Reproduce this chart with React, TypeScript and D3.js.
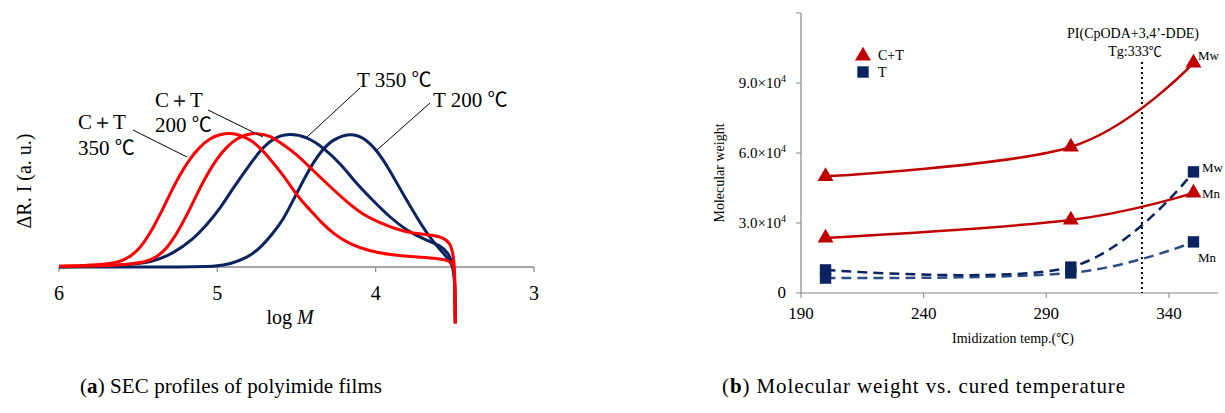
import React, { useRef, useEffect } from "react";
import * as d3 from "d3";

// ---- panel (a): SEC profiles, [log M, normalised intensity]
const secRed350: [number, number][] = [
    [6.0, 0.005], [5.74, 0.015], [5.615, 0.037], [5.551, 0.075], [5.488, 0.14], [5.425, 0.25],
    [5.362, 0.39], [5.299, 0.545], [5.236, 0.69], [5.172, 0.81], [5.109, 0.9], [5.046, 0.96],
    [4.983, 0.99], [4.92, 1.0], [4.857, 0.985], [4.79, 0.95], [4.73, 0.89], [4.67, 0.81], [4.6, 0.71],
    [4.54, 0.61], [4.48, 0.51], [4.41, 0.42], [4.35, 0.34], [4.26, 0.24], [4.16, 0.17], [4.04, 0.12],
    [3.91, 0.09], [3.75, 0.075], [3.61, 0.065], [3.54, 0.05], [3.51, 0.02], [3.5, -0.05],
    [3.497, -0.42], [3.497, -0.42],
];
const secRed200: [number, number][] = [
    [6.0, 0.005], [5.615, 0.01], [5.444, 0.037], [5.381, 0.075], [5.318, 0.14], [5.255, 0.25],
    [5.191, 0.39], [5.128, 0.545], [5.065, 0.69], [5.002, 0.81], [4.939, 0.9], [4.876, 0.96],
    [4.812, 0.99], [4.749, 1.0], [4.667, 0.98], [4.604, 0.93], [4.497, 0.84], [4.395, 0.72],
    [4.288, 0.6], [4.181, 0.485], [4.08, 0.39], [3.972, 0.33], [3.865, 0.28], [3.764, 0.25],
    [3.656, 0.24], [3.574, 0.22], [3.53, 0.18], [3.511, 0.1], [3.5, -0.01], [3.497, -0.42], [3.497, -0.42],
];
const secBlue350: [number, number][] = [
    [6.0, 0.0], [5.615, 0.01], [5.41, 0.035], [5.28, 0.1], [5.15, 0.21], [5.07, 0.31], [4.98, 0.44],
    [4.9, 0.59], [4.81, 0.74], [4.73, 0.87], [4.65, 0.96], [4.55, 1.0], [4.43, 0.97], [4.33, 0.89],
    [4.22, 0.77], [4.12, 0.62], [4.02, 0.5], [3.91, 0.37], [3.8, 0.27], [3.7, 0.21], [3.59, 0.16],
    [3.54, 0.105], [3.51, 0.015], [3.5, -0.1], [3.497, -0.42], [3.497, -0.42],
];
const secBlue200: [number, number][] = [
    [6.0, 0.0], [5.11, 0.0], [5.015, 0.005], [4.92, 0.02], [4.81, 0.07], [4.73, 0.14], [4.65, 0.25],
    [4.585, 0.35], [4.52, 0.5], [4.43, 0.71], [4.35, 0.86], [4.27, 0.955], [4.16, 1.0], [4.08, 0.97],
    [3.99, 0.87], [3.91, 0.72], [3.83, 0.55], [3.74, 0.37], [3.66, 0.22], [3.57, 0.1], [3.51, 0.015],
    [3.5, -0.1], [3.497, -0.42], [3.497, -0.42],
];
const secTicks = [6, 5, 4, 3];

// ---- panel (b): molecular weight vs imidization temperature
const temps = [200, 300, 350];
const ctMw = [50000, 62600, 98600];
const ctMn = [23600, 31300, 42900];
const tMw = [9900, 11100, 51900];
const tMn = [6400, 8600, 21900];
const mwTicks = [0, 30000, 60000, 90000, 120000];
const mwTickLabels = ["0", "3.0", "6.0", "9.0", ""];
const tempTicks = [190, 240, 290, 340];
const tgLine = 329;

const serif = "'Liberation Serif', 'Times New Roman', serif";
const cjk = "'Noto Sans CJK JP', sans-serif";

const App = () => {
    const svgRef = useRef<SVGSVGElement>(null);

    useEffect(() => {
        if (!svgRef.current) return;
        const svg = d3.select(svgRef.current);
        svg.selectAll("*").remove();
        svg.style("font-family", serif);

        // ================= panel (a)
        const xa = d3.scaleLinear().domain([6, 3]).range([59, 534]);
        const ya = d3.scaleLinear().domain([0, 1]).range([267, 133]);
        const a = svg.append("g");

        a.append("line")
            .attr("x1", xa(6)).attr("x2", xa(3))
            .attr("y1", ya(0)).attr("y2", ya(0))
            .attr("stroke", "#888").attr("stroke-width", 1.5);
        secTicks.forEach((t) => {
            a.append("line")
                .attr("x1", xa(t)).attr("x2", xa(t))
                .attr("y1", ya(0)).attr("y2", ya(0) + 5)
                .attr("stroke", "#888").attr("stroke-width", 1.2);
            a.append("text")
                .attr("x", xa(t)).attr("y", ya(0) + 33)
                .attr("text-anchor", "middle")
                .style("font-size", "20px")
                .text(t);
        });

        const lineA = d3.line<[number, number]>()
            .x((d) => xa(d[0]))
            .y((d) => ya(d[1]))
            .curve(d3.curveBasis);

        const curves: { data: [number, number][]; color: string }[] = [
            { data: secBlue200, color: "#0b2461" },
            { data: secBlue350, color: "#0b2461" },
            { data: secRed200, color: "#ff0000" },
            { data: secRed350, color: "#ff0000" },
        ];
        curves.forEach((c) => {
            a.append("path")
                .attr("d", lineA(c.data))
                .attr("fill", "none")
                .attr("stroke", c.color)
                .attr("stroke-width", 3);
        });

        // leader lines
        const leaders = [
            [133, 130, 187, 157],
            [208, 110, 263, 137],
            [360, 88, 307, 137],
            [430, 103, 377, 150],
        ];
        leaders.forEach(([x1, y1, x2, y2]) => {
            a.append("line")
                .attr("x1", x1).attr("y1", y1).attr("x2", x2).attr("y2", y2)
                .attr("stroke", "#000").attr("stroke-width", 1);
        });

        const annot = (x: number, y: number, s: string, deg = false) => {
            const t = a.append("text").attr("x", x).attr("y", y).style("font-size", "21px");
            t.append("tspan").text(s);
            if (deg) t.append("tspan").style("font-family", cjk).style("font-size", "20px").text("℃");
        };
        annot(78, 129, "C＋T");
        annot(78, 155, "350 ", true);
        annot(155, 107, "C＋T");
        annot(155, 132, "200 ", true);
        annot(357, 87, "T 350 ", true);
        annot(433, 107, "T 200 ", true);

        a.append("text")
            .attr("transform", "translate(31,181) rotate(-90)")
            .attr("text-anchor", "middle")
            .style("font-size", "20px")
            .text("ΔR. I (a. u.)");

        const xl = a.append("text")
            .attr("x", 290).attr("y", 324)
            .attr("text-anchor", "middle")
            .style("font-size", "20px");
        xl.append("tspan").text("log ");
        xl.append("tspan").style("font-style", "italic").text("M");

        // ================= panel (b)
        const xb = d3.scaleLinear().domain([190, 360]).range([801, 1218]);
        const yb = d3.scaleLinear().domain([0, 120000]).range([293, 13]);
        const b = svg.append("g");

        b.append("line")
            .attr("x1", xb(190)).attr("x2", xb(360))
            .attr("y1", yb(0)).attr("y2", yb(0))
            .attr("stroke", "#888").attr("stroke-width", 1.2);
        b.append("line")
            .attr("x1", xb(190)).attr("x2", xb(190))
            .attr("y1", yb(0)).attr("y2", yb(120000))
            .attr("stroke", "#888").attr("stroke-width", 1.2);

        tempTicks.forEach((t) => {
            b.append("line")
                .attr("x1", xb(t)).attr("x2", xb(t))
                .attr("y1", yb(0)).attr("y2", yb(0) + 5)
                .attr("stroke", "#888");
            b.append("text")
                .attr("x", xb(t)).attr("y", yb(0) + 26)
                .attr("text-anchor", "middle")
                .style("font-size", "17px")
                .text(t);
        });
        mwTicks.forEach((t, i) => {
            b.append("line")
                .attr("x1", xb(190) - 5).attr("x2", xb(190))
                .attr("y1", yb(t)).attr("y2", yb(t))
                .attr("stroke", "#888");
            const lbl = mwTickLabels[i];
            if (!lbl) return;
            const tx = b.append("text")
                .attr("x", xb(190) - 15).attr("y", yb(t) + 5)
                .attr("text-anchor", "end")
                .style("font-size", lbl === "0" ? "17px" : "15px");
            if (lbl === "0") {
                tx.text("0");
            } else {
                tx.append("tspan").text(`${lbl}×10`);
                tx.append("tspan").attr("dy", -6).style("font-size", "10px").text("4");
            }
        });

        b.append("text")
            .attr("transform", "translate(724,173) rotate(-90)")
            .attr("text-anchor", "middle")
            .style("font-size", "14px")
            .text("Molecular weight");
        const xlb = b.append("text")
            .attr("x", 1013).attr("y", 343)
            .attr("text-anchor", "middle")
            .style("font-size", "14px");
        xlb.append("tspan").text("Imidization temp.(");
        xlb.append("tspan").style("font-family", cjk).style("font-size", "13px").text("℃");
        xlb.append("tspan").text(")");

        // Tg line
        b.append("line")
            .attr("x1", xb(tgLine)).attr("x2", xb(tgLine))
            .attr("y1", 62).attr("y2", yb(0))
            .attr("stroke", "#000").attr("stroke-width", 2)
            .attr("stroke-dasharray", "2 3");
        b.append("text")
            .attr("x", 1133).attr("y", 38)
            .attr("text-anchor", "middle")
            .style("font-size", "14px")
            .text("PI(CpODA+3,4’-DDE)");
        const tg = b.append("text")
            .attr("x", 1135).attr("y", 56)
            .attr("text-anchor", "middle")
            .style("font-size", "14px");
        tg.append("tspan").text("Tg:333");
        tg.append("tspan").style("font-family", cjk).style("font-size", "13px").text("℃");

        const lineB = d3.line<[number, number]>()
            .x((d) => xb(d[0]))
            .y((d) => yb(d[1]))
            .curve(d3.curveCardinal.tension(0));

        const series = [
            { vals: tMn, color: "#2a4f86", dash: "10 6", marker: "square" },
            { vals: tMw, color: "#0b2461", dash: "10 6", marker: "square" },
            { vals: ctMn, color: "#c00000", dash: null, marker: "triangle" },
            { vals: ctMw, color: "#c00000", dash: null, marker: "triangle" },
        ];
        const tri = d3.symbol().type(d3.symbolTriangle).size(110);
        const sq = d3.symbol().type(d3.symbolSquare).size(130);
        series.forEach((s) => {
            const pts = temps.map((t, i) => [t, s.vals[i]] as [number, number]);
            b.append("path")
                .attr("d", lineB(pts))
                .attr("fill", "none")
                .attr("stroke", s.color)
                .attr("stroke-width", 2.5)
                .attr("stroke-dasharray", s.dash);
            pts.forEach((p) => {
                b.append("path")
                    .attr("d", (s.marker === "triangle" ? tri : sq)())
                    .attr("transform", `translate(${xb(p[0])},${yb(p[1])})`)
                    .attr("fill", s.marker === "triangle" ? "#c00000" : "#0b2461");
            });
        });

        const endLbl = (x: number, y: number, s: string) =>
            b.append("text").attr("x", x).attr("y", y).style("font-size", "13px").text(s);
        endLbl(1198, 60, "Mw");
        endLbl(1202, 172, "Mw");
        endLbl(1202, 198, "Mn");
        endLbl(1198, 262, "Mn");

        // legend
        b.append("path").attr("d", tri()).attr("transform", "translate(863,56)").attr("fill", "#c00000");
        b.append("text").attr("x", 878).attr("y", 60).style("font-size", "14px").text("C+T");
        b.append("path").attr("d", sq()).attr("transform", "translate(863,72)").attr("fill", "#0b2461");
        b.append("text").attr("x", 878).attr("y", 77).style("font-size", "14px").text("T");

        // captions
        const cap = (x: number, w: number, letter: string, rest: string) => {
            const t = svg.append("text")
                .attr("x", x).attr("y", 393)
                .attr("textLength", w)
                .style("font-size", "21px");
            t.append("tspan").text("(");
            t.append("tspan").style("font-weight", "bold").text(letter);
            t.append("tspan").text(rest);
        };
        cap(80, 302, "a", ") SEC profiles of polyimide films");
        cap(722, 403, "b", ") Molecular weight vs. cured temperature");
    }, []);

    return (
        <svg
            ref={svgRef}
            width={1225}
            height={413}
            style={{ position: "absolute", left: 0, top: 0, background: "#fff" }}
        />
    );
};

export default App;
